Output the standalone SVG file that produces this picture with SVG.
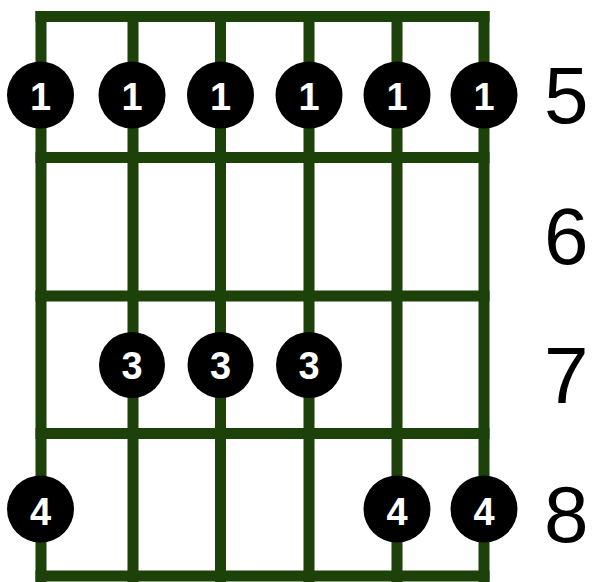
<svg xmlns="http://www.w3.org/2000/svg" width="592" height="582" viewBox="0 0 592 582">
<style>
.g{stroke:#1c4109;stroke-width:11;fill:none}
.d circle{fill:#000}
.d text{fill:#fff;font-family:"Liberation Sans",Arial,sans-serif;font-weight:bold;font-size:38px;text-anchor:middle}
.f{fill:#000;font-family:"Liberation Sans",Arial,sans-serif;font-size:80px}
</style>
<rect width="592" height="582" fill="#fff"/>
<g id="grid">
<line class="g" x1="35.5" y1="16.5" x2="489.5" y2="16.5"/>
<line class="g" x1="35.5" y1="157.5" x2="489.5" y2="157.5"/>
<line class="g" x1="35.5" y1="296" x2="489.5" y2="296"/>
<line class="g" x1="35.5" y1="433.5" x2="489.5" y2="433.5"/>
<line class="g" x1="35.5" y1="576" x2="489.5" y2="576"/>
<line class="g" x1="41" y1="11" x2="41" y2="582"/>
<line class="g" x1="133" y1="11" x2="133" y2="582"/>
<line class="g" x1="220.5" y1="11" x2="220.5" y2="582"/>
<line class="g" x1="309" y1="11" x2="309" y2="582"/>
<line class="g" x1="397" y1="11" x2="397" y2="582"/>
<line class="g" x1="484" y1="11" x2="484" y2="582"/>
</g>
<g id="dots" class="d">
<g id="d1a"><circle cx="40.5" cy="95" r="33.5"/><text x="40.5" y="110">1</text></g>
<g id="d1b"><circle cx="132" cy="95" r="33.5"/><text x="132" y="110">1</text></g>
<g id="d1c"><circle cx="220.5" cy="95" r="33.5"/><text x="220.5" y="110">1</text></g>
<g id="d1d"><circle cx="309" cy="95" r="33.5"/><text x="309" y="110">1</text></g>
<g id="d1e"><circle cx="397" cy="95" r="33.5"/><text x="397" y="110">1</text></g>
<g id="d1f"><circle cx="484" cy="95" r="33.5"/><text x="484" y="110">1</text></g>
<g id="d3a"><circle cx="132" cy="365" r="33"/><text x="132" y="379">3</text></g>
<g id="d3b"><circle cx="220.5" cy="365" r="33"/><text x="220.5" y="379">3</text></g>
<g id="d3c"><circle cx="309" cy="365" r="33"/><text x="309" y="379">3</text></g>
<g id="d4a"><circle cx="40.5" cy="509" r="33.5"/><text x="40.5" y="525">4</text></g>
<g id="d4b"><circle cx="397" cy="509" r="33.5"/><text x="397" y="525">4</text></g>
<g id="d4c"><circle cx="484" cy="509" r="33.5"/><text x="484" y="525">4</text></g>
</g>
<g id="frets">
<text class="f" x="544" y="123">5</text>
<text class="f" x="544" y="264">6</text>
<text class="f" x="544" y="403">7</text>
<text class="f" x="544" y="542">8</text>
</g>
</svg>
